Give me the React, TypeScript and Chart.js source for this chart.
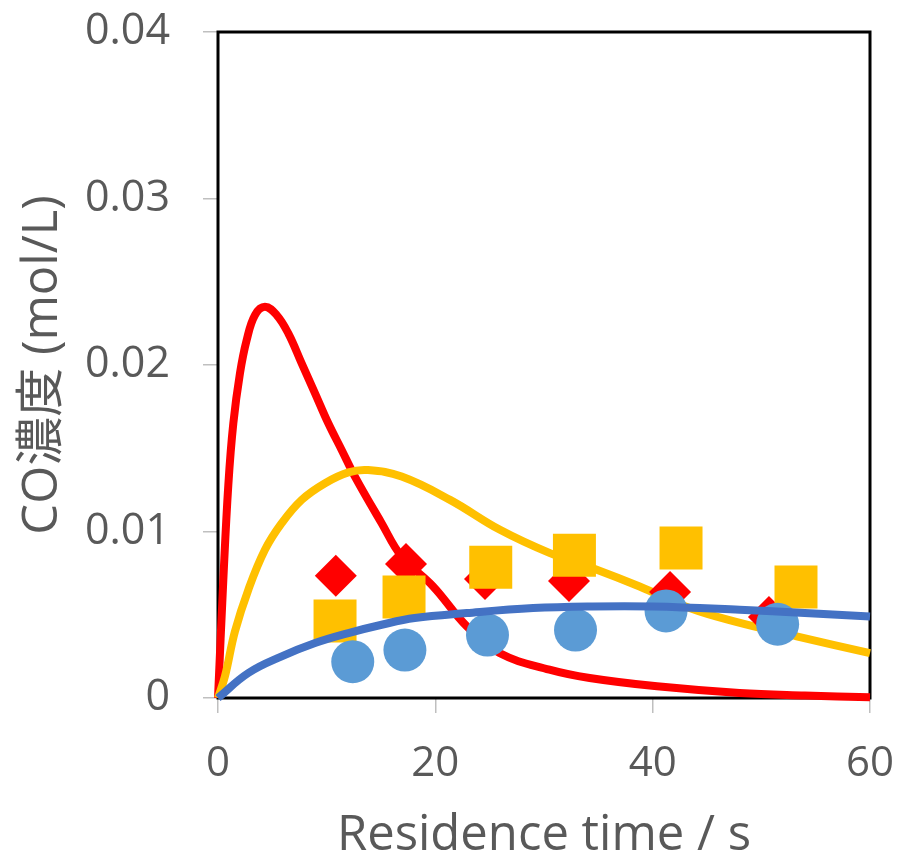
import React, { useEffect, useRef } from "react";
import { Chart, registerables } from "chart.js";
Chart.register(...registerables);

const xTicks = [0, 20, 40, 60];
const yTicks = [0, 0.01, 0.02, 0.03, 0.04];
const xTitle = "Residence time / s";
const yTitle = "CO濃度 (mol/L)";

const redLineX = [0, 0.49, 0.95, 1.41, 2.02, 2.64, 3.4, 4.32, 5.4, 6.47, 7.7, 8.93, 10.15, 11.38, 12.6, 15.06, 16.9, 19.8, 22.9, 25.9, 30.5, 34.2, 40.4, 48, 54, 60];
const redLineY = [0, 0.0071, 0.0128, 0.0165, 0.0195, 0.0215, 0.023, 0.0235, 0.023, 0.0219, 0.0201, 0.0183, 0.0165, 0.0149, 0.0133, 0.0105, 0.0085, 0.0067, 0.0043, 0.0027, 0.0017, 0.0012, 0.0007, 0.0003, 0.00015, 0.00005];
const yellowLineX = [0, 0.64, 1.56, 2.79, 4.32, 5.86, 7.7, 9.85, 12.0, 13.8, 16.9, 21.35, 25.95, 30.55, 34.5, 38.8, 43.4, 47.5, 53.25, 60];
const yellowLineY = [0, 0.0013, 0.0040, 0.0065, 0.0089, 0.0105, 0.0119, 0.0129, 0.01355, 0.01369, 0.0133, 0.0119, 0.0101, 0.0087, 0.0078, 0.0067, 0.0054, 0.0046, 0.0037, 0.0027];
const blueLineX = [0, 2.79, 5.86, 8.93, 12.0, 15.06, 18.1, 22.9, 29.0, 34.2, 40, 48, 54, 60];
const blueLineY = [0, 0.0015, 0.0025, 0.0033, 0.0039, 0.0044, 0.0048, 0.0051, 0.0054, 0.0055, 0.0055, 0.0053, 0.0051, 0.0049];

const diamondX = [10.84, 17.3, 24.57, 32.3, 41.6, 50.7];
const diamondY = [0.00734, 0.00805, 0.00715, 0.00703, 0.00637, 0.00486];
const squareX = [10.77, 17.12, 25.1, 32.8, 42.61, 53.19];
const squareY = [0.00462, 0.00607, 0.00785, 0.00857, 0.00901, 0.00667];
const circleX = [12.4, 17.2, 24.8, 32.9, 41.23, 51.5];
const circleY = [0.00218, 0.00288, 0.00378, 0.00408, 0.00523, 0.00443];

const pts = (xs: number[], ys: number[]) => xs.map((x, i) => ({ x, y: ys[i] }));

const TEXT = "#595959";
const FONT = "'Open Sans', 'Noto Sans CJK JP', sans-serif";

const framePlugin = {
  id: "frame",
  beforeDatasetsDraw(chart: any) {
    const { ctx, chartArea: a } = chart;
    ctx.save();
    ctx.strokeStyle = "#000";
    ctx.lineWidth = 3;
    ctx.strokeRect(a.left, a.top, a.right - a.left, a.bottom - a.top);
    ctx.restore();
  },
};

export default function App() {
  const ref = useRef<HTMLCanvasElement>(null);
  useEffect(() => {
    if (!ref.current) return;
    const lineDs = (label: string, xs: number[], ys: number[], color: string, order: number) => ({
      type: "line" as const,
      label,
      data: pts(xs, ys),
      borderColor: color,
      backgroundColor: color,
      borderWidth: 8,
      pointRadius: 0,
      showLine: true,
      fill: false,
      tension: 0.4,
      clip: false as any,
      order,
    });
    const markerDs = (label: string, xs: number[], ys: number[], color: string, style: string, r: number, order: number) => ({
      type: "scatter" as const,
      label,
      data: pts(xs, ys),
      backgroundColor: color,
      borderColor: color,
      borderWidth: 0,
      pointStyle: style,
      pointRadius: r,
      clip: false as any,
      order,
    });
    const chart = new Chart(ref.current, {
      type: "scatter",
      data: {
        datasets: [
          lineDs("model red", redLineX, redLineY, "#FF0000", 5),
          lineDs("model yellow", yellowLineX, yellowLineY, "#FFC000", 4),
          markerDs("exp red", diamondX, diamondY, "#FF0000", "rectRot", 21, 3),
          markerDs("exp yellow", squareX, squareY, "#FFC000", "rect", 30.4, 2),
          markerDs("exp blue", circleX, circleY, "#5B9BD5", "circle", 21.5, 1),
          lineDs("model blue", blueLineX, blueLineY, "#4472C4", 0),
        ] as any,
      },
      options: {
        responsive: false,
        animation: false,
        layout: { autoPadding: false, padding: { top: 24, right: 23, left: 0, bottom: 0 } },
        plugins: { legend: { display: false }, tooltip: { enabled: false } },
        scales: {
          x: {
            type: "linear",
            min: 0,
            max: 60,
            afterBuildTicks: (s: any) => { s.ticks = xTicks.map((v) => ({ value: v })); },
            afterFit: (s: any) => { s.height = 161; s.paddingLeft = 0; s.paddingRight = 0; s.paddingTop = 0; s.paddingBottom = 0; },
            grid: { drawOnChartArea: false, drawTicks: true, tickLength: 15, color: "#bfbfbf", lineWidth: 1.5 },
            border: { display: false },
            ticks: { color: TEXT, font: { family: FONT, size: 42 }, padding: 26, callback: (v: any) => String(v) },
            title: { display: true, text: xTitle, color: TEXT, font: { family: FONT, size: 49 }, padding: { top: 0, bottom: -6 } },
          },
          y: {
            type: "linear",
            min: 0,
            max: 0.04,
            afterBuildTicks: (s: any) => { s.ticks = yTicks.map((v) => ({ value: v })); },
            afterFit: (s: any) => { s.width = 210; s.paddingLeft = 0; s.paddingRight = 0; s.paddingTop = 0; s.paddingBottom = 0; },
            grid: { drawOnChartArea: false, drawTicks: true, tickLength: 15, color: "#bfbfbf", lineWidth: 1.5 },
            border: { display: false },
            ticks: {
              color: TEXT,
              font: { family: FONT, size: 43 },
              padding: 33,
              callback: (v: any) => (v === 0 ? "0" : Number(v).toFixed(2)),
            },
            title: { display: true, text: yTitle, color: TEXT, font: { family: FONT, size: 49 }, padding: { top: 6, bottom: 0 } },
          },
        },
      },
      plugins: [framePlugin],
    });
    return () => chart.destroy();
  }, []);
  return (
    <div style={{ width: 885, height: 851 }}>
      <canvas ref={ref} width={885} height={851} />
    </div>
  );
}
